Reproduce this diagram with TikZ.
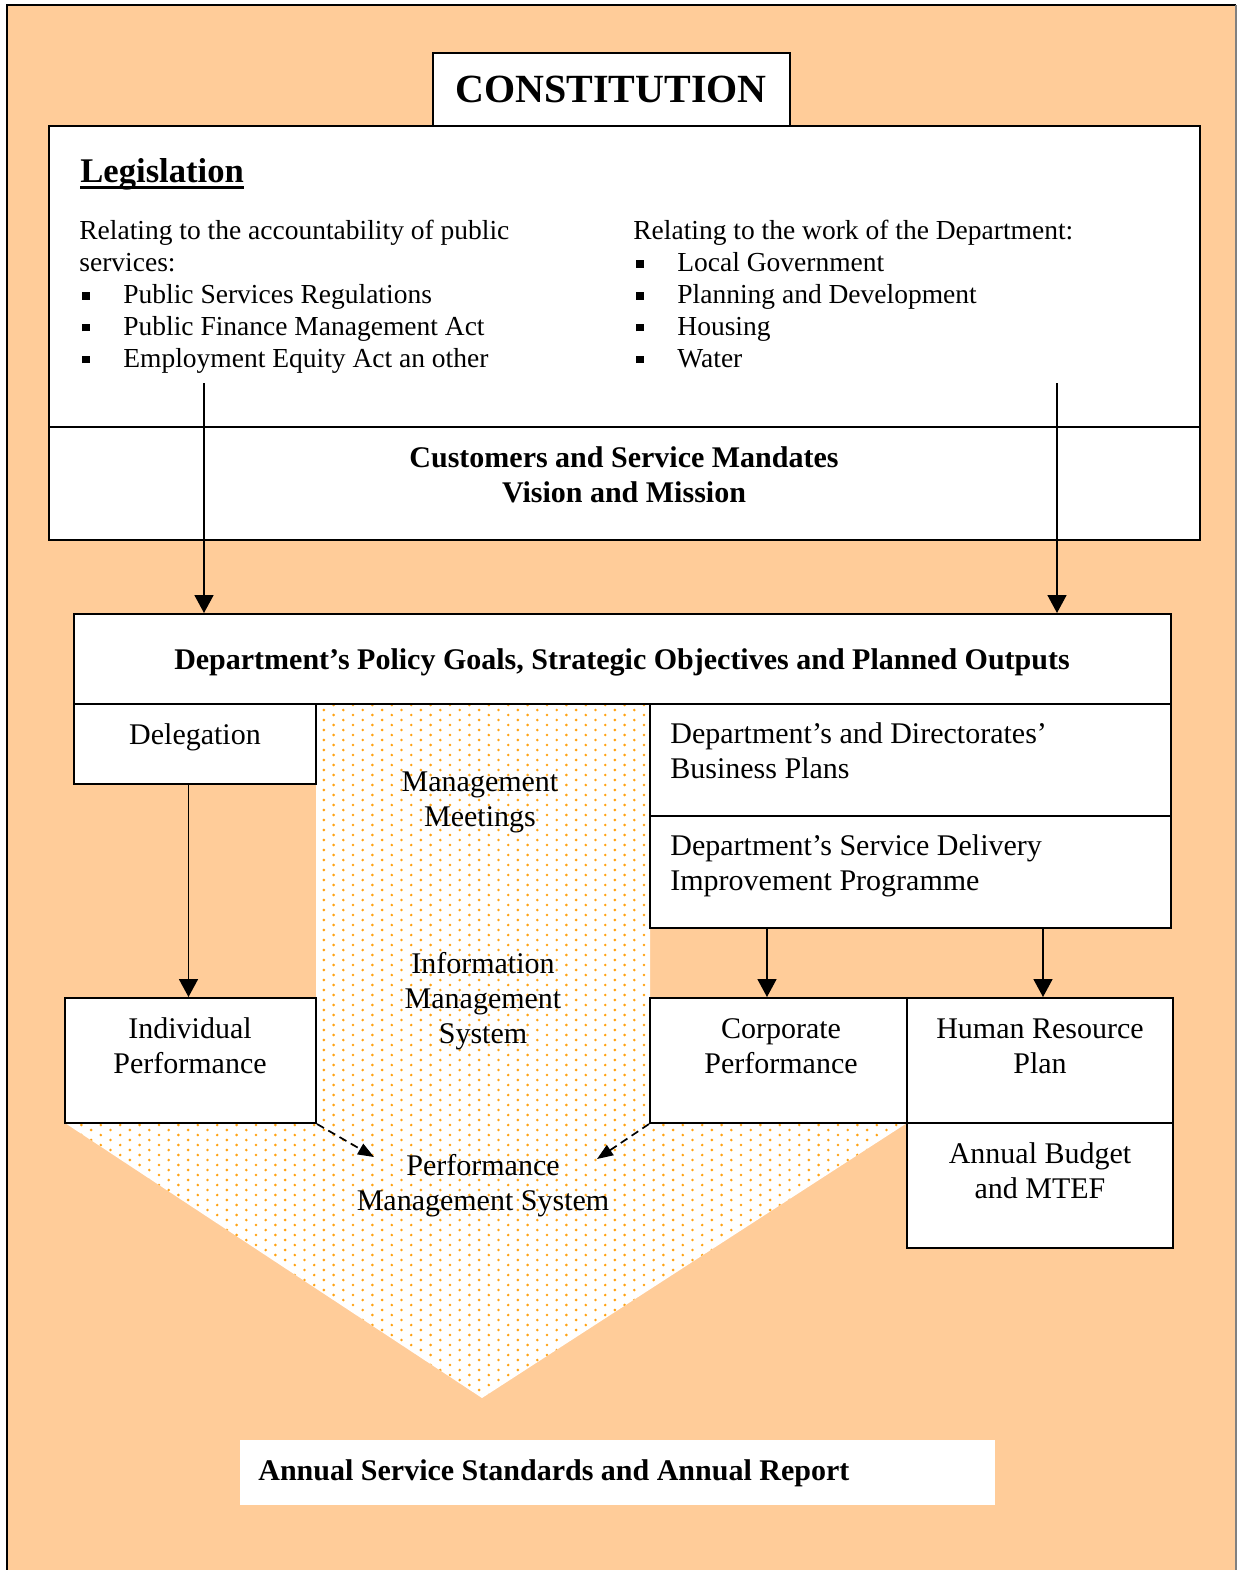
\documentclass[tikz,border=0pt]{standalone}
\usepackage{fontspec}
\setmainfont{Liberation Serif}
\usetikzlibrary{arrows.meta,fit}
\definecolor{peach}{RGB}{255,204,153}
\definecolor{dotorange}{RGB}{255,163,20}
% square list bullet followed by the hanging indent
\newcommand{\blt}{\makebox[22pt][l]{\hspace{1.3pt}\rule[1.9pt]{3.8pt}{3.8pt}}}

\begin{document}
\begin{tikzpicture}[x=0.5pt,y=-0.5pt,
  box/.style={draw, line width=1pt, fill=white, inner sep=0pt},
  legfont/.style={font=\fontsize{13.75pt}{15.9pt}\selectfont},
  boxfont/.style={font=\fontsize{15pt}{17.4pt}\selectfont},
  headfont/.style={font=\fontsize{15pt}{17.5pt}\selectfont\bfseries},
  txt/.style={inner sep=0pt, anchor=base},
  arr/.style={line width=0.85pt, -{Triangle[width=9.5pt,length=9pt]}},
  dasharr/.style={line width=0.85pt, dash pattern=on 4pt off 2.5pt, -{Triangle[width=6pt,length=8pt]}}]

\useasboundingbox (0,0) rectangle (1238,1570);
\fill[white] (0,0) rectangle (1238,1570);

% page frame
\fill[peach] (7,5) rectangle (1236,1570);
\draw[line width=1pt] (7,1570) -- (7,5) -- (1236,5);
\draw[line width=1pt, gray] (1236,5) -- (1236,1570);

% dotted management funnel
\begin{scope}
  \clip (316,704) -- (650,704) -- (650,1123) -- (907,1123) -- (482,1398)
        -- (65,1123) -- (316,1123) -- cycle;
  \fill[white] (60,700) rectangle (910,1400);
  \foreach \r in {0,...,139}{
    \pgfmathsetmacro{\yy}{705+5*\r}
    \pgfmathsetmacro{\xo}{62+mod(\r,2)*9.7}
    \foreach \k in {0,...,44}{
      \fill[dotorange] (\xo+19.4*\k,\yy) circle (0.72pt);
    }
  }
\end{scope}

% boxes
\node[box, fit={(49,126) (1200,427)}] (legis) {};
\node[box, fit={(49,427) (1200,540)}] (mand) {};
\node[box, fit={(433,53) (790,126)}] (const) {};
\node[box, fit={(74,614) (1171,704)}] (policy) {};
\node[box, fit={(74,704) (316,784)}] (deleg) {};
\node[box, fit={(650,704) (1171,816)}] (bplan) {};
\node[box, fit={(650,816) (1171,928)}] (sdip) {};
\node[box, fit={(65,998) (316,1123)}] (indiv) {};
\node[box, fit={(650,998) (907,1123)}] (corp) {};
\node[box, fit={(907,998) (1173,1123)}] (hr) {};
\node[box, fit={(907,1123) (1173,1248)}] (budget) {};
\node[fill=white, inner sep=0pt, fit={(240,1440) (995,1505)}] (report) {};

% connectors
\coordinate (legL) at (204,383);
\coordinate (legR) at (1057,383);
\draw[arr] (legL) -- (legL |- policy.north);
\draw[arr] (legR) -- (legR |- policy.north);
\draw[arr] ([xshift=-1pt]deleg.south -| indiv.north) -- ([xshift=-1pt]indiv.north);
\draw[arr] ([xshift=59pt]sdip.south west) -- ([xshift=59pt]corp.north west);
\draw[arr] ([xshift=197pt]sdip.south west) -- ([xshift=68.5pt]hr.north west);
\draw[dasharr] (indiv.south east) -- ++(57,33);
\draw[dasharr] (corp.south west) -- ++(-52,35);

% texts (multi-line nodes are placed by the baseline of their last line)
\node[txt, font=\fontsize{20pt}{24pt}\selectfont\bfseries] (constT) at (611,102) {CONSTITUTION};
\node[txt, anchor=base west, font=\fontsize{17.3pt}{20pt}\selectfont\bfseries] (legT) at (80,182) {Legislation};
\draw[line width=1.5pt] ([yshift=-2.6pt]legT.base west) -- ([yshift=-2.6pt]legT.base east);

\node[txt, legfont, anchor=base west, align=left] (accT) at (79,367)
  {Relating to the accountability of public\\services:\\
   \blt Public Services Regulations\\
   \blt Public Finance Management Act\\
   \blt Employment Equity Act an other};
\node[txt, legfont, anchor=base west, align=left] (workT) at (633,367)
  {Relating to the work of the Department:\\
   \blt Local Government\\
   \blt Planning and Development\\
   \blt Housing\\
   \blt Water};

\node[txt, headfont, align=center] (mandT) at (624,502) {Customers and Service Mandates\\Vision and Mission};
\node[txt, headfont] (polT) at (622,669) {Department’s Policy Goals, Strategic Objectives and Planned Outputs};

\node[txt, boxfont] (delegT) at (195,744) {Delegation};
\node[txt, boxfont, align=center] (meetT) at (480,826) {Management\\Meetings};
\node[txt, boxfont, align=center] (infoT) at (483,1043) {Information\\Management\\System};
\node[txt, boxfont, anchor=base west, align=left] (bplanT) at (670,778) {Department’s and Directorates’\\Business Plans};
\node[txt, boxfont, anchor=base west, align=left] (sdipT) at (670,890) {Department’s Service Delivery\\Improvement Programme};
\node[txt, boxfont, align=center] (indivT) at (190,1073) {Individual\\Performance};
\node[txt, boxfont, align=center] (corpT) at (781,1073) {Corporate\\Performance};
\node[txt, boxfont, align=center] (hrT) at (1040,1073) {Human Resource\\Plan};
\node[txt, boxfont, align=center] (budgetT) at (1040,1198) {Annual Budget\\and MTEF};
\node[txt, boxfont, align=center] (pmsT) at (483,1210) {Performance\\Management System};
\node[txt, headfont, anchor=base west] (reportT) at (258,1480) {Annual Service Standards and Annual Report};
\end{tikzpicture}
\end{document}
